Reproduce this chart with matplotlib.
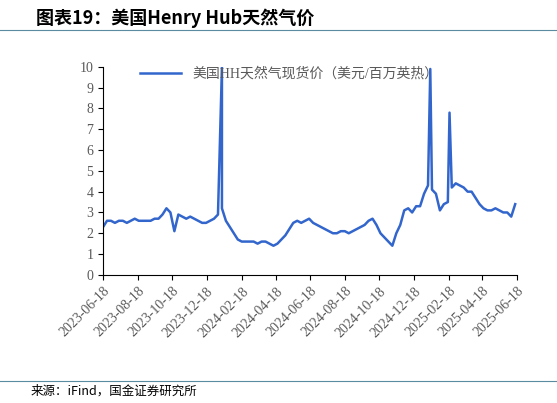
import matplotlib
matplotlib.use('Agg')
import matplotlib.pyplot as plt
import matplotlib.dates as mdates
import pandas as pd

plt.rcParams['font.family'] = ['Liberation Serif', 'Noto Sans CJK SC']

# weekly Henry Hub prices, starting 2023-06-18
weekly_start = '2023-06-18'
weekly_prices = [
    2.3, 2.6,
    2.6, 2.5, 2.6, 2.6, 2.5,
    2.6, 2.7, 2.6, 2.6,
    2.6, 2.6, 2.7, 2.7,
    2.9, 3.2, 3.0, 2.1, 2.9,
    2.8, 2.7, 2.8, 2.7,
    2.6, 2.5, 2.5, 2.6, 2.7,
    2.9, 3.2, 2.6, 2.3,
    2.0, 1.7, 1.6, 1.6,
    1.6, 1.6, 1.5, 1.6, 1.6,
    1.5, 1.4, 1.5, 1.7,
    1.9, 2.2, 2.5, 2.6,
    2.5, 2.6, 2.7, 2.5, 2.4,
    2.3, 2.2, 2.1, 2.0,
    2.0, 2.1, 2.1, 2.0,
    2.1, 2.2, 2.3, 2.4, 2.6,
    2.7, 2.4, 2.0, 1.8,
    1.6, 1.4, 2.0, 2.4,
    3.1, 3.2, 3.0, 3.3, 3.3,
    3.9, 4.3, 4.1, 3.9,
    3.1, 3.4, 3.5, 4.2,
    4.4, 4.3, 4.2, 4.0, 4.0,
    3.7, 3.4, 3.2, 3.1,
    3.1, 3.2, 3.1, 3.0,
    3.0, 2.8, 3.4,
]
# daily spikes
spike_dates = ['2024-01-14', '2025-01-16', '2025-02-19']
spike_prices = [10.0, 9.9, 7.8]
tick_labels = ['2023-06-18', '2023-08-18', '2023-10-18', '2023-12-18', '2024-02-18',
               '2024-04-18', '2024-06-18', '2024-08-18', '2024-10-18', '2024-12-18',
               '2025-02-18', '2025-04-18', '2025-06-18']

dates = list(pd.date_range(weekly_start, periods=len(weekly_prices), freq='7D'))
s = pd.Series(weekly_prices, index=dates)
s = pd.concat([s, pd.Series(spike_prices, index=pd.to_datetime(spike_dates))]).sort_index()

fig = plt.figure(figsize=(5.57, 4.03), dpi=100)
fig.text(0.065, 0.955, '图表19：美国Henry Hub天然气价', fontsize=13, fontweight='bold',
         fontstyle='italic', family=['Noto Sans CJK SC'], va='center')
fig.add_artist(plt.Line2D([0.0, 1.0], [0.925, 0.925], color='#5b8ba0', lw=0.8))
fig.add_artist(plt.Line2D([0.0, 1.0], [0.055, 0.055], color='#5b8ba0', lw=0.8))
fig.text(0.055, 0.03, '来源：iFind，国金证券研究所', fontsize=9, family=['Noto Sans CJK SC'], va='center')

ax = fig.add_axes([0.185, 0.318, 0.743, 0.516])
ax.plot(s.index, s.values, color='#3366cc', lw=1.8, label='美国HH天然气现货价（美元/百万英热）')
ax.set_ylim(0, 10)
ax.set_yticks(range(0, 11))
ax.set_xlim(pd.Timestamp('2023-06-18'), pd.Timestamp('2025-06-18'))
ax.set_xticks(pd.to_datetime(tick_labels))
ax.xaxis.set_major_formatter(mdates.DateFormatter('%Y-%m-%d'))
plt.setp(ax.get_xticklabels(), rotation=45, ha='right', rotation_mode='anchor')
ax.tick_params(labelsize=10, colors='#595959', direction='out')
ax.tick_params(axis='both', color='black')
for sp in ['top', 'right']:
    ax.spines[sp].set_visible(False)
ax.legend(loc='upper center', bbox_to_anchor=(0.45, 1.06), frameon=False, fontsize=10,
          labelcolor='#595959', handlelength=3)
fig.savefig('out.png', dpi=100)
